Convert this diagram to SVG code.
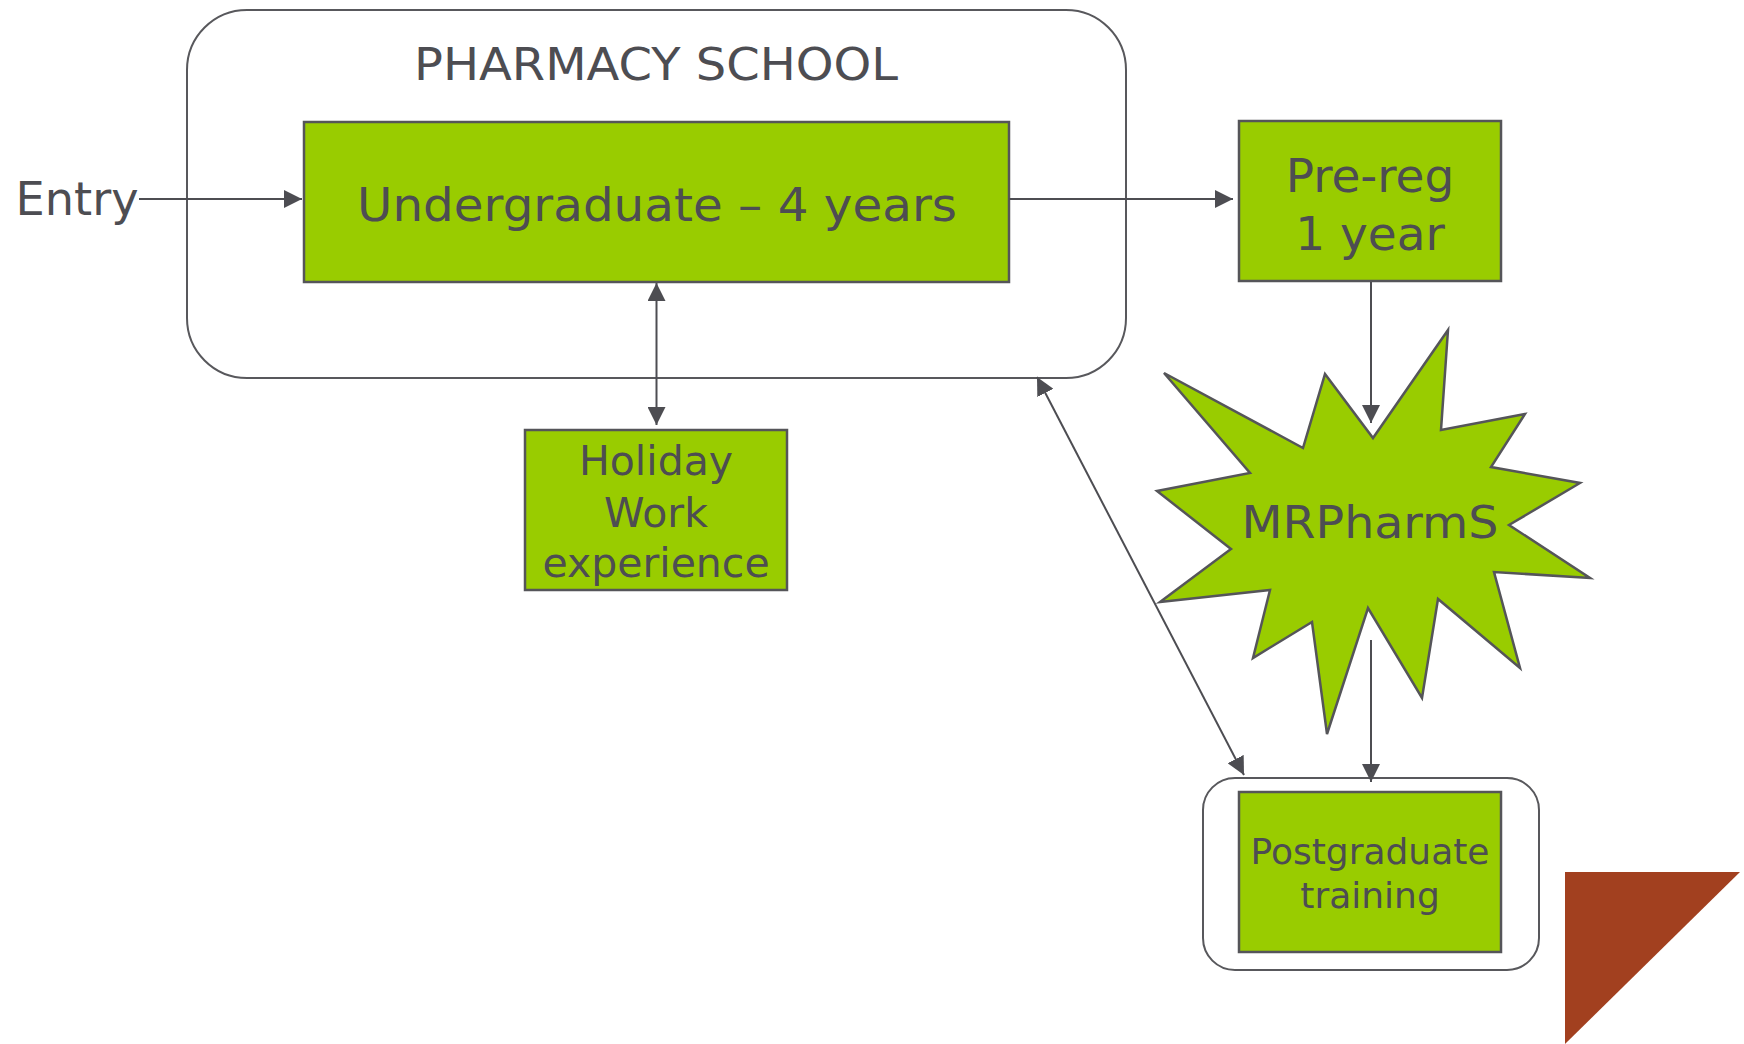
<svg xmlns="http://www.w3.org/2000/svg" width="1744" height="1044" viewBox="0 0 1744 1044">
  <defs>
    <style>
      .frame { fill: #ffffff; stroke: #58585c; stroke-width: 2; }
      .box { fill: #99cc00; stroke: #555559; stroke-width: 2.5; }
      .label { font-family: "DejaVu Sans", Verdana, sans-serif; fill: #4d4d52; text-anchor: middle; }
      .link { fill: none; stroke: #4d4d52; stroke-width: 2; }
    </style>
    <marker id="arrow" markerUnits="userSpaceOnUse" markerWidth="18" markerHeight="18" viewBox="0 0 16 16" refX="16" refY="8" orient="auto-start-reverse">
      <path d="M0,0 L16,8 L0,16 Z" fill="#4d4d52"/>
    </marker>
  </defs>

  <rect width="1744" height="1044" fill="#ffffff"/>

  <!-- school frame -->
  <g id="pharmacy-school">
    <rect class="frame" x="187" y="10" width="939" height="368" rx="60" ry="60"/>
    <text class="label" x="656" y="80" font-size="45" textLength="484" lengthAdjust="spacingAndGlyphs">PHARMACY SCHOOL</text>
  </g>

  <g id="entry">
    <text class="label" x="77" y="215" font-size="46" textLength="123" lengthAdjust="spacingAndGlyphs">Entry</text>
  </g>

  <g id="undergraduate">
    <rect class="box" x="304" y="122" width="705" height="160"/>
    <text class="label" x="657" y="221" font-size="46" textLength="600" lengthAdjust="spacingAndGlyphs">Undergraduate – 4 years</text>
  </g>

  <g id="pre-reg">
    <rect class="box" x="1239" y="121" width="262" height="160"/>
    <text class="label" x="1370" y="192" font-size="47">Pre-reg</text>
    <text class="label" x="1370" y="250" font-size="47">1 year</text>
  </g>

  <g id="holiday-work">
    <rect class="box" x="525" y="430" width="262" height="160"/>
    <text class="label" x="656" y="475" font-size="41">Holiday</text>
    <text class="label" x="656" y="527" font-size="41">Work</text>
    <text class="label" x="656" y="577" font-size="41">experience</text>
  </g>

  <g id="mrpharms">
    <polygon class="box" stroke-width="2" points="1448,330 1441,430 1525,414 1491,467 1580,483 1509,525 1590,578 1494,572 1520,668 1438,599 1422,698 1368,608 1327,734 1312,622 1253,658 1270,590 1160,602 1231,549 1157,491 1250,473 1164,373 1303,448 1325,374 1373,438"/>
    <text class="label" x="1370" y="538" font-size="45" textLength="257" lengthAdjust="spacingAndGlyphs">MRPharmS</text>
  </g>

  <g id="postgraduate">
    <rect class="frame" x="1203" y="778" width="336" height="192" rx="32" ry="32"/>
    <rect class="box" x="1239" y="792" width="262" height="160"/>
    <text class="label" x="1370" y="864" font-size="36">Postgraduate</text>
    <text class="label" x="1370" y="908" font-size="36">training</text>
  </g>

  <!-- corner accent -->
  <polygon id="corner-accent" points="1565,872 1740,872 1565,1044" fill="#a2401f"/>

  <g id="connectors">
    <line class="link" x1="139" y1="199" x2="302" y2="199" marker-end="url(#arrow)"/>
    <line class="link" x1="1009" y1="199" x2="1233" y2="199" marker-end="url(#arrow)"/>
    <line class="link" x1="656.5" y1="283" x2="656.5" y2="425" marker-start="url(#arrow)" marker-end="url(#arrow)"/>
    <line class="link" x1="1371" y1="282" x2="1371" y2="423" marker-end="url(#arrow)"/>
    <line class="link" x1="1371" y1="640" x2="1371" y2="782" marker-end="url(#arrow)"/>
    <line class="link" x1="1037" y1="377" x2="1244" y2="775" marker-start="url(#arrow)" marker-end="url(#arrow)"/>
  </g>
</svg>
